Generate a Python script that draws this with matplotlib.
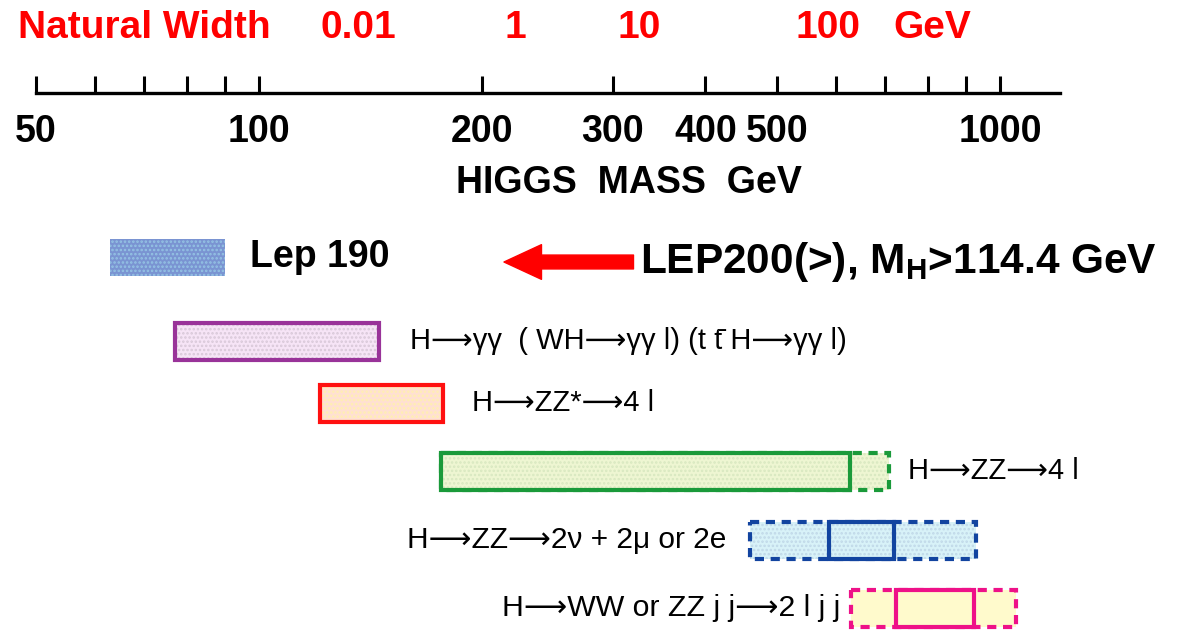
import matplotlib
matplotlib.use('Agg')
import matplotlib.pyplot as plt
import numpy as np
from matplotlib.patches import Rectangle
from matplotlib.ticker import NullLocator

# Higgs mass axis (GeV)
tick_values = [50, 60, 70, 80, 90, 100, 200, 300, 400, 500, 600, 700, 800, 900, 1000]
tick_labels = ['50', '', '', '', '', '100', '200', '300', '400', '500', '', '', '', '', '1000']

# natural width scale (red), at the matching Higgs mass
width_labels = ['0.01', '1', '10', '100', 'GeV']
width_mass = [136, 222, 326, 586, 810]

# LEP reach and discovery channels (GeV): solid = core, dashed = extended
arr = '\u27f6'
channels = ['Lep 190',
            'H' + arr + '\u03b3\u03b3  ( WH' + arr + '\u03b3\u03b3 l) (t t\u0304 H' + arr + '\u03b3\u03b3 l)',
            'H' + arr + 'ZZ*' + arr + '4 l',
            'H' + arr + 'ZZ' + arr + '4 l',
            'H' + arr + 'ZZ' + arr + '2\u03bd + 2\u03bc or 2e',
            'H' + arr + 'WW or ZZ j j' + arr + '2 l j j']
solid_lo = [63, 77, 121, 176, 588, 724]
solid_hi = [90, 145, 177, 627, 719, 922]
dash_lo = [np.nan, np.nan, np.nan, 176, 460, 629]
dash_hi = [np.nan, np.nan, np.nan, 708, 928, 1051]

# styling per row
row_y = [257, 341, 403, 471, 540, 608]
edge_cols = [None, '#993399', '#ff1010', '#1a9a3a', '#1244a0', '#ee1188']
fill_cols = ['#7a94d2', '#f6e4f6', '#ffe0d2', '#eef6d2', '#d8f2f8', '#fffacc']
hatch_cols = ['#94c4e4', '#d8c8d8', '#fff0b0', '#d8e8c0', '#c0d8e8', '#fffacc']
label_x = [250, 410, 472, 908, 726, 840]
label_ha = ['left', 'left', 'left', 'left', 'right', 'right']
label_fs = [27, 21, 21, 21, 21.5, 21.8]

W, H = 1183, 636
bar_h = 37
sans = ['Liberation Sans', 'DejaVu Sans']
plt.rcParams['hatch.linewidth'] = 1.2

fig = plt.figure(figsize=(W / 100, H / 100), dpi=100)
left, width = 36 / W, 1024 / W
xlim = (50, 1204)

# scale with ticks
ax_s = fig.add_axes([left, 1 - 93 / H, width, 0.08])
ax_s.set_facecolor('none')
ax_s.set_xscale('log')
ax_s.set_xlim(xlim)
ax_s.xaxis.set_minor_locator(NullLocator())
ax_s.set_xticks(tick_values, tick_labels, fontweight='bold',
                family='Liberation Sans', fontsize=27)
ax_s.tick_params(axis='x', direction='in', length=12, width=2.2, pad=15)
ax_s.set_yticks([])
for s in ['top', 'left', 'right']:
    ax_s.spines[s].set_visible(False)
ax_s.spines['bottom'].set_linewidth(2.4)

# bars and texts, y in pixels from the top
ax = fig.add_axes([left, 0, width, 1])
ax.set_facecolor('none')
ax.set_xscale('log')
ax.set_xlim(xlim)
ax.set_ylim(H, 0)
ax.axis('off')

for i in range(len(channels)):
    y0 = row_y[i] - bar_h / 2
    if not np.isnan(dash_lo[i]):
        ax.add_patch(Rectangle((dash_lo[i], y0), dash_hi[i] - dash_lo[i], bar_h,
                               facecolor=fill_cols[i], edgecolor=hatch_cols[i],
                               hatch='....', lw=0))
        ax.add_patch(Rectangle((dash_lo[i], y0), dash_hi[i] - dash_lo[i], bar_h,
                               fill=False, edgecolor=edge_cols[i], lw=3,
                               linestyle=(0, (2.2, 1.6))))
    ax.add_patch(Rectangle((solid_lo[i], y0), solid_hi[i] - solid_lo[i], bar_h,
                           facecolor=fill_cols[i], edgecolor=hatch_cols[i],
                           hatch='....', lw=0))
    if edge_cols[i] is not None:
        ax.add_patch(Rectangle((solid_lo[i], y0), solid_hi[i] - solid_lo[i], bar_h,
                               fill=False, edgecolor=edge_cols[i], lw=3))
    if i == 0:
        fig.text(label_x[i] / W, 1 - row_y[i] / H, channels[i], ha='left',
                 va='center', fontsize=label_fs[i], fontweight='bold',
                 family='Liberation Sans')
    else:
        fig.text(label_x[i] / W, 1 - row_y[i] / H, channels[i], ha=label_ha[i],
                 va='center', fontsize=label_fs[i], family=sans)

# natural width labels
fig.text(18 / W, 1 - 28 / H, 'Natural Width', color='#ff0000', fontsize=28,
         fontweight='bold', family='Liberation Sans', ha='left', va='center')
for lab, m in zip(width_labels, width_mass):
    ax.text(m, 28, lab, color='#ff0000', fontsize=28, fontweight='bold',
            family='Liberation Sans', ha='center', va='center')

fig.text(629 / W, 1 - 183 / H, 'HIGGS  MASS  GeV', fontsize=27,
         fontweight='bold', family='Liberation Sans', ha='center', va='center')

# LEP200 limit arrow
ax.annotate('', xy=(214, 262), xytext=(320, 262),
            arrowprops=dict(arrowstyle='simple,head_length=2.7,head_width=2.5,tail_width=1.0',
                            color='#ff0000', shrinkA=0, shrinkB=0, mutation_scale=10))
plt.rcParams['mathtext.fontset'] = 'custom'
plt.rcParams['mathtext.rm'] = 'Liberation Sans:bold'
fig.text(640 / W, 1 - 262 / H, r'LEP200(>), M$_{\mathrm{H}}$>114.4 GeV', fontsize=30.5,
         fontweight='bold', family='Liberation Sans', ha='left', va='center')

fig.canvas.draw()
lbl50 = ax_s.get_xticklabels()[0]
lbl50.set_x(51.5)
fig.savefig('out.png', dpi=100)
